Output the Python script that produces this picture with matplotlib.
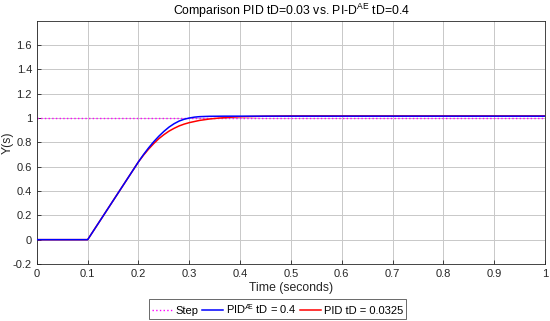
import numpy as np
import matplotlib
matplotlib.use('Agg')
import matplotlib.pyplot as plt

plt.rcParams['font.family'] = ['Liberation Sans', 'DejaVu Sans']
plt.rcParams['mathtext.fontset'] = 'custom'
plt.rcParams['mathtext.rm'] = 'Liberation Sans'
plt.rcParams['mathtext.it'] = 'Liberation Sans'

# 读图得到的数据
t_step = [0.0, 1.0]
y_step = [1.0, 1.0]

t_blue = [0.0, 0.1, 0.12, 0.14, 0.16, 0.18, 0.2, 0.21, 0.22, 0.23, 0.24, 0.25,
          0.26, 0.27, 0.28, 0.29, 0.30, 0.31, 0.32, 0.34, 0.37, 0.4, 1.0]
y_blue = [0.0, 0.0, 0.128, 0.256, 0.384, 0.512, 0.64, 0.70, 0.755, 0.805, 0.85, 0.89,
          0.925, 0.953, 0.975, 0.99, 1.0, 1.007, 1.011, 1.014, 1.015, 1.015, 1.015]

t_red = [0.0, 0.1, 0.12, 0.14, 0.16, 0.18, 0.2, 0.21, 0.22, 0.23, 0.24, 0.25,
         0.26, 0.27, 0.28, 0.29, 0.30, 0.32, 0.34, 0.36, 0.38, 0.40, 0.45, 0.5, 1.0]
y_red = [0.0, 0.0, 0.128, 0.256, 0.384, 0.512, 0.64, 0.695, 0.745, 0.79, 0.83, 0.863,
         0.892, 0.915, 0.935, 0.95, 0.962, 0.98, 0.992, 1.0, 1.006, 1.01, 1.015, 1.017, 1.017]

xticks = [0, 0.1, 0.2, 0.3, 0.4, 0.5, 0.6, 0.7, 0.8, 0.9, 1]
yticks = [-0.2, 0, 0.2, 0.4, 0.6, 0.8, 1, 1.2, 1.4, 1.6]

fig = plt.figure(figsize=(5.5, 3.21), dpi=100)
ax = fig.add_axes([0.067, 0.1776, 0.924, 0.758])

ax.plot(t_step, y_step, ':', color='#ff00ff', lw=1.0, label='Step')
ax.plot(t_blue, y_blue, '-', color='#0000ff', lw=1.1, label=r'PID$^{\AE}$ tD = 0.4', zorder=3)
ax.plot(t_red, y_red, '-', color='#ff0000', lw=1.1, label='PID tD = 0.0325')

ax.set_xlim(0, 1)
ax.set_ylim(-0.2, 1.8)
ax.set_xticks(xticks)
ax.set_xticklabels(['%g' % v for v in xticks])
ax.set_yticks(yticks)
ax.set_yticklabels(['%g' % v for v in yticks])
ax.tick_params(direction='in', length=3, labelsize=8, colors='#262626', width=0.6)
ax.grid(True, color='#c8c8c8', lw=0.7)
for s in ax.spines.values():
    s.set_color('#262626')
    s.set_linewidth(0.6)

ax.set_title(r'Comparison PID tD=0.03 vs. PI-D$^{\mathrm{AE}}$ tD=0.4', fontsize=8.8,
             color='#000000', pad=4)
ax.set_xlabel('Time (seconds)', fontsize=8.8, color='#262626', labelpad=2)
ax.set_ylabel('Y(s)', fontsize=8.8, color='#262626')
ax.yaxis.set_label_coords(-0.045, 0.5)

leg = fig.legend(loc='center', bbox_to_anchor=(0.5045, 0.037), ncol=3, fontsize=8,
                 frameon=True, fancybox=False, handlelength=1.9, handletextpad=0.25,
                 columnspacing=0.3, borderpad=0.25, borderaxespad=0)
leg.get_frame().set_edgecolor('#262626')
leg.get_frame().set_linewidth(0.6)

fig.savefig('out.png', dpi=100)
